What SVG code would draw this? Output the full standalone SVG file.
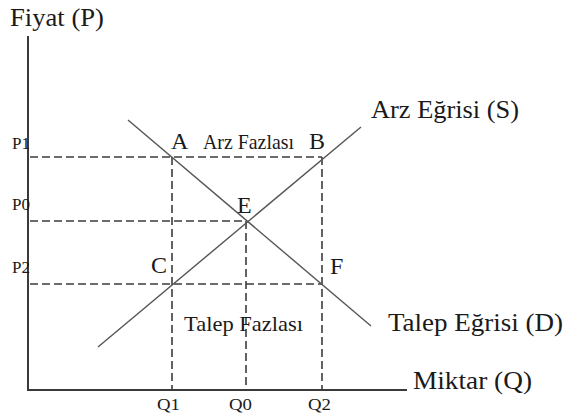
<svg xmlns="http://www.w3.org/2000/svg" width="567" height="420" viewBox="0 0 567 420">
<style>
text{font-family:'Liberation Serif','DejaVu Serif',serif;fill:#1a1a1a}
.big{font-size:25px}
.pt{font-size:24px}
.sm{font-size:17px}
.mid{font-size:21px}
.axis{stroke:#3a3a3a;stroke-width:2;fill:none}
.curve{stroke:#555;stroke-width:1.4;fill:none}
.dash{stroke:#3c3c3c;stroke-width:1.6;stroke-dasharray:8 4;fill:none}
</style>
<rect width="567" height="420" fill="#fff"/>
<g id="axes">
<line class="axis" x1="28" y1="36" x2="28" y2="391"/>
<line class="axis" x1="27" y1="390" x2="407" y2="390"/>
<text class="big" x="10" y="26" textLength="94" lengthAdjust="spacingAndGlyphs">Fiyat (P)</text>
<text class="big" x="413" y="389" textLength="119" lengthAdjust="spacingAndGlyphs">Miktar (Q)</text>
</g>
<g id="connectors">
<line class="dash" x1="30" y1="157" x2="322" y2="157"/>
<line class="dash" x1="30" y1="221" x2="246" y2="221"/>
<line class="dash" x1="30" y1="284" x2="322" y2="284"/>
<line class="dash" x1="172" y1="157" x2="172" y2="390"/>
<line class="dash" x1="246" y1="221" x2="246" y2="390"/>
<line class="dash" x1="322" y1="157" x2="322" y2="390"/>
</g>
<g id="supply">
<line class="curve" x1="98" y1="347" x2="361" y2="127"/>
<text class="big" x="371" y="118" textLength="148" lengthAdjust="spacingAndGlyphs">Arz Eğrisi (S)</text>
</g>
<g id="demand">
<line class="curve" x1="128" y1="120" x2="371" y2="326"/>
<text class="big" x="388" y="331" textLength="175" lengthAdjust="spacingAndGlyphs">Talep Eğrisi (D)</text>
</g>
<g id="points">
<text class="pt" x="171" y="149">A</text>
<text class="pt" x="309" y="149">B</text>
<text class="pt" x="237" y="213">E</text>
<text class="pt" x="151" y="273">C</text>
<text class="pt" x="330" y="274">F</text>
</g>
<g id="regions">
<text class="mid" x="203" y="149" textLength="91" lengthAdjust="spacingAndGlyphs">Arz Fazlası</text>
<text class="mid" x="184" y="331" textLength="119" lengthAdjust="spacingAndGlyphs">Talep Fazlası</text>
</g>
<g id="ticks">
<text class="sm" x="12" y="149" textLength="18" lengthAdjust="spacingAndGlyphs">P1</text>
<text class="sm" x="12" y="210" textLength="18" lengthAdjust="spacingAndGlyphs">P0</text>
<text class="sm" x="12" y="273" textLength="18" lengthAdjust="spacingAndGlyphs">P2</text>
<text class="sm" x="157" y="410" textLength="23" lengthAdjust="spacingAndGlyphs">Q1</text>
<text class="sm" x="229" y="410" textLength="23" lengthAdjust="spacingAndGlyphs">Q0</text>
<text class="sm" x="308" y="410" textLength="23" lengthAdjust="spacingAndGlyphs">Q2</text>
</g>
</svg>
